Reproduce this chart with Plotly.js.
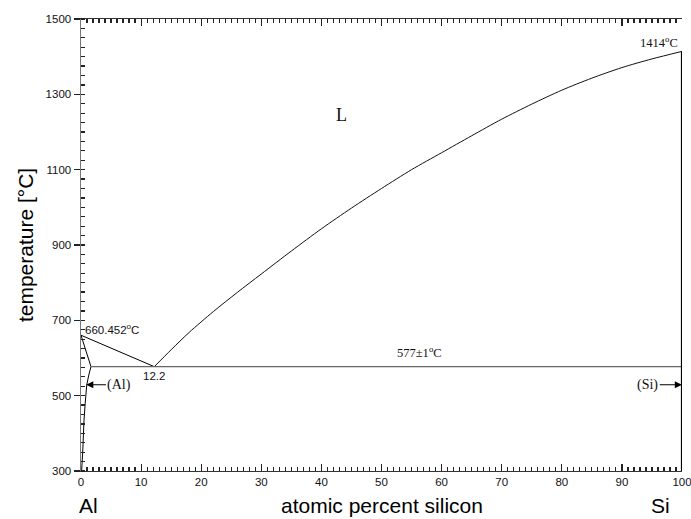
<!DOCTYPE html>
<html>
<head>
<meta charset="utf-8">
<script src="https://cdn.plot.ly/plotly-3.0.1.min.js"></script>
<style>html,body{margin:0;padding:0;background:#fff;}#chart{width:691px;height:519px;}</style>
</head>
<body>
<div id="chart"></div>
<script>
// Liquidus (Si side): from eutectic to Si melting point
const liqSiX = [12.2, 15, 18, 22, 26, 30, 35, 40, 45, 50, 55, 60, 65, 70, 75, 80, 85, 90, 95, 100];
const liqSiT = [577, 622, 668, 723, 774, 823, 884, 943, 998, 1050, 1100, 1145, 1190, 1234, 1274, 1311, 1343, 1371, 1394, 1414];
// Liquidus (Al side)
const liqAlX = [0, 12.2];
const liqAlT = [660.452, 577];
// Solidus + solvus of (Al)
const solAlX = [0, 1.66, 1.3, 0.95, 0.7, 0.5, 0.28, 0.1];
const solAlT = [660.452, 577, 555, 528, 480, 435, 348, 300];
// Eutectic line
const eutX = [1.66, 100];
const eutT = [577, 577];
// (Si) pure line
const siX = [100, 100];
const siT = [300, 1414];

const blk = {color: '#000', width: 1};
const traces = [
  {x: liqSiX, y: liqSiT, mode: 'lines', line: {color: '#111', width: 1, shape: 'spline', smoothing: 0.8}, hoverinfo: 'skip'},
  {x: liqAlX, y: liqAlT, mode: 'lines', line: blk, hoverinfo: 'skip'},
  {x: solAlX, y: solAlT, mode: 'lines', line: blk, hoverinfo: 'skip'},
  {x: eutX, y: eutT, mode: 'lines', line: {color: '#666', width: 1.2}, hoverinfo: 'skip'},
  {x: siX, y: siT, mode: 'lines', line: {color: '#000', width: 2.2}, hoverinfo: 'skip'}
];

const serif = 'Liberation Serif, DejaVu Serif, serif';
const sans = 'Liberation Sans, Arial, sans-serif';

const layout = {
  width: 691, height: 519,
  margin: {l: 81, r: 9, t: 19, b: 48},
  paper_bgcolor: '#fff', plot_bgcolor: '#fff',
  showlegend: false,
  xaxis: {
    range: [0, 100.0001], tickmode: 'linear', tick0: 0, dtick: 10,
    ticks: 'inside', ticklen: 7, tickcolor: '#222', tickwidth: 1.2, mirror: 'allticks',
    minor: {dtick: 1, tick0: 0, ticks: 'inside', ticklen: 4, tickcolor: '#222', tickwidth: 1.2},
    showline: true, linecolor: '#333', linewidth: 1.2, showgrid: false, zeroline: false,
    ticklabeloverflow: 'allow',
    tickfont: {family: sans, size: 11.5, color: '#111'}, fixedrange: true
  },
  yaxis: {
    range: [300, 1500], tickmode: 'linear', tick0: 300, dtick: 200,
    ticks: 'outside', ticklen: 6, tickcolor: '#222', tickwidth: 1.2,
    minor: {dtick: 25, tick0: 300, ticks: 'inside', ticklen: 4, tickcolor: '#222', tickwidth: 1.2},
    showline: true, linecolor: '#777', linewidth: 1.5, showgrid: false, zeroline: false,
    ticklabeloverflow: 'allow',
    tickfont: {family: sans, size: 11.5, color: '#111'}, fixedrange: true
  },
  annotations: [
    {x: 0.4, y: 677, xref: 'x', yref: 'y', text: '660.452<sup>o</sup>C', showarrow: false, xanchor: 'left', yanchor: 'middle', font: {family: sans, size: 11.5, color: '#111'}},
    {x: 12.1, y: 551, xref: 'x', yref: 'y', text: '12.2', showarrow: false, font: {family: sans, size: 11.5, color: '#111'}},
    {x: 56.4, y: 616, xref: 'x', yref: 'y', text: '577±1<sup>o</sup>C', showarrow: false, font: {family: serif, size: 12.5, color: '#111'}},
    {x: 99.6, y: 1438, xref: 'x', yref: 'y', text: '1414<sup>o</sup>C', showarrow: false, xanchor: 'right', font: {family: serif, size: 12.5, color: '#111'}},
    {x: 43.3, y: 1245, xref: 'x', yref: 'y', text: 'L', showarrow: false, font: {family: serif, size: 18, color: '#111'}},
    {x: 0.85, y: 529, xref: 'x', yref: 'y', ax: 6.4, ay: 529, axref: 'x', ayref: 'y', text: '(Al)', showarrow: true,
     arrowhead: 2, arrowsize: 1.2, arrowwidth: 1.2, arrowcolor: '#000', standoff: 0, font: {family: serif, size: 14, color: '#111'}},
    {x: 100, y: 529, xref: 'x', yref: 'y', ax: 94.3, ay: 529, axref: 'x', ayref: 'y', text: '(Si)', showarrow: true,
     arrowhead: 2, arrowsize: 1.2, arrowwidth: 1.2, arrowcolor: '#000', standoff: 0, font: {family: serif, size: 14, color: '#111'}},
    {x: -0.006, y: -0.077, xref: 'paper', yref: 'paper', text: 'Al', showarrow: false, xanchor: 'left', yanchor: 'middle', font: {family: sans, size: 21, color: '#000'}},
    {x: 0.5, y: -0.077, xref: 'paper', yref: 'paper', text: 'atomic percent silicon', showarrow: false, yanchor: 'middle', font: {family: sans, size: 21, color: '#000'}},
    {x: 0.983, y: -0.077, xref: 'paper', yref: 'paper', text: 'Si', showarrow: false, yanchor: 'middle', font: {family: sans, size: 21, color: '#000'}},
    {x: -0.093, y: 0.5, xref: 'paper', yref: 'paper', text: 'temperature [°C]', textangle: -90, showarrow: false, xanchor: 'center', yanchor: 'middle', font: {family: sans, size: 21, color: '#000'}}
  ]
};

Plotly.newPlot('chart', traces, layout, {displayModeBar: false, staticPlot: true});
</script>
</body>
</html>
